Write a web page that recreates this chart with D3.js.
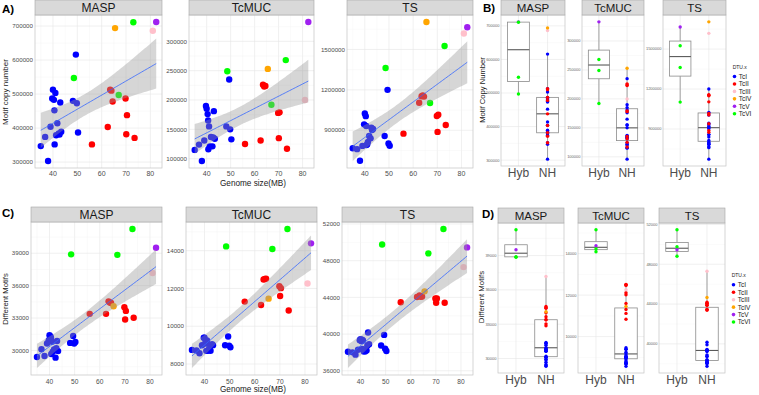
<!DOCTYPE html>
<html>
<head>
<meta charset="utf-8">
<script src="https://cdn.jsdelivr.net/npm/d3@7"></script>
<style>
  body { margin: 0; background: #fff; }
  svg text { font-family: "Liberation Sans", Arial, Helvetica, sans-serif; }
</style>
</head>
<body>
<div id="chart"></div>
<script>
// ---- data ----
const families = ['MASP', 'TcMUC', 'TS'];
const dtuLevels = ['TcI', 'TcII', 'TcIII', 'TcIV', 'TcV', 'TcVI'];
const groupLabels = ['Hyb', 'NH'];

// one entry per strain
const genomeSize = [35.0, 36.8, 38.0, 39.0, 39.7, 40.0, 40.4, 40.6, 40.7, 41.0, 41.3, 41.8, 42.4, 42.7, 43.0, 43.4, 48.2, 49.4, 49.8, 50.3,
  56.0, 62.5, 63.5, 64.0, 64.5, 69.8, 70.4, 70.1, 73.5,
  81.0, 65.5, 82.4, 48.6, 67.0, 73.0];
const strainDtu = ['TcI', 'TcI', 'TcI', 'TcI', 'TcI', 'TcI', 'TcI', 'TcI', 'TcI', 'TcI', 'TcI', 'TcI', 'TcI', 'TcI', 'TcI', 'TcI', 'TcI', 'TcI', 'TcI', 'TcI',
  'TcII', 'TcII', 'TcII', 'TcII', 'TcII', 'TcII', 'TcII', 'TcII', 'TcII',
  'TcIII', 'TcIV', 'TcV', 'TcVI', 'TcVI', 'TcVI'];

// motif copy number
const maspCopies = [347000, 374000, 303000, 404000, 487000, 513000, 483000, 452000, 352000, 503000, 379000, 414000, 384000, 381000, 475000, 389000, 480000, 616000, 473000, 387000,
  352000, 403000, 513000, 510000, 478000, 487000, 438000, 382000, 371000,
  686000, 694000, 712000, 547000, 497000, 711000];
const tcmucCopies = [115000, 124000, 96000, 131000, 190000, 185000, 176000, 165000, 116000, 155000, 121000, 137000, 121000, 136000, 181000, 134000, 155000, 235000, 150000, 133000,
  125000, 131000, 226000, 223000, 224000, 178000, 179000, 135000, 117000,
  200000, 253000, 333000, 249000, 192000, 268000];
const tsCopies = [767000, 760000, 674000, 784000, 944000, 1025000, 1005000, 932000, 790000, 797000, 814000, 858000, 840000, 920000, 902000, 910000, 858000, 1200000, 802000, 785000,
  875000, 1104000, 1153000, 1158000, 1150000, 1006000, 1016000, 888000, 939000,
  1618000, 1704000, 1665000, 1362000, 1102000, 1525000];

// different motifs
const maspMotifs = [29390, 30120, 29480, 30640, 30940, 31400, 31300, 31150, 29670, 30800, 29880, 30090, 29330, 30200, 30880, 29940, 30700, 31340, 30640, 30790,
  33390, 33390, 34545, 34450, 34390, 34000, 33660, 32870, 33030,
  37165, 34090, 39510, 38900, 38850, 41250];
const tcmucMotifs = [8748, 8713, 8574, 8991, 9391, 9391, 9165, 9078, 8696, 9250, 8696, 8800, 8700, 8991, 9043, 9000, 8991, 9460, 8974, 8887,
  11304, 11120, 12470, 12500, 12520, 12120, 12016, 11600, 10836,
  12260, 11460, 14386, 14226, 14090, 15149];
const tsMotifs = [38080, 38010, 37760, 38300, 39340, 39450, 39230, 39380, 38370, 39300, 38115, 38115, 38200, 38730, 40170, 38900, 38760, 39914, 38400, 38150,
  43475, 44050, 44200, 44060, 44100, 43880, 43880, 43410, 43410,
  47300, 44660, 49450, 49770, 48800, 51460];

// tick labels
const genomeTicks = [40, 50, 60, 70, 80];
const maspCopyTicks = [300000, 400000, 500000, 600000, 700000];
const tcmucCopyTicks = [100000, 150000, 200000, 250000, 300000];
const tsCopyTicks = [900000, 1200000, 1500000];
const maspMotifTicks = [30000, 33000, 36000, 39000];
const tcmucMotifTicks = [8000, 10000, 12000, 14000];
const tsMotifTicks = [36000, 40000, 44000, 48000, 52000];

// ---- styles ----
const dtuColor = d3.scaleOrdinal()
    .domain(dtuLevels)
    .range(['#0000ff', '#ff0000', '#ffc0cb', '#ffa500', '#a020f0', '#00ff00']);
const hybrids = ['TcV', 'TcVI'];
const T_975 = 2.0345; // qt(0.975, n - 2)

const svg = d3.select('#chart').append('svg')
    .attr('width', 759)
    .attr('height', 395);

// linear fit with 95% confidence band, like geom_smooth(method = "lm")
function lmBand(xs, ys) {
  const n = xs.length;
  const xbar = d3.mean(xs), ybar = d3.mean(ys);
  let sxx = 0, sxy = 0;
  xs.forEach((x, i) => { sxx += (x - xbar) ** 2; sxy += (x - xbar) * (ys[i] - ybar); });
  const b = sxy / sxx, a = ybar - b * xbar;
  const rss = d3.sum(xs, (x, i) => (ys[i] - a - b * x) ** 2);
  const s = Math.sqrt(rss / (n - 2));
  const [lo, hi] = d3.extent(xs);
  return d3.range(80).map(k => {
    const x = lo + (hi - lo) * k / 79;
    const fit = a + b * x;
    const se = s * Math.sqrt(1 / n + (x - xbar) ** 2 / sxx);
    return {x: x, fit: fit, lo: fit - T_975 * se, hi: fit + T_975 * se};
  });
}

function pad(ext, f) {
  const d = (ext[1] - ext[0]) * f;
  return [ext[0] - d, ext[1] + d];
}

function drawStrip(g, x0, x1, top, h, label, size) {
  g.append('rect')
      .attr('x', x0).attr('y', top)
      .attr('width', x1 - x0).attr('height', h)
      .attr('fill', '#d9d9d9')
      .attr('stroke', '#a6a6a6')
      .attr('stroke-width', 0.6);
  g.append('text')
      .attr('x', (x0 + x1) / 2)
      .attr('y', top + h / 2 + size * 0.36)
      .attr('text-anchor', 'middle')
      .attr('font-size', size)
      .attr('fill', '#1a1a1a')
      .text(label);
}

function yGrid(g, y, ticks, x0, x1) {
  const major = ticks.filter(t => t >= y.domain()[0] && t <= y.domain()[1]);
  const step = ticks[1] - ticks[0];
  const minor = d3.range(ticks[0] - step / 2, ticks[ticks.length - 1] + step, step)
      .filter(t => t >= y.domain()[0] && t <= y.domain()[1]);
  g.selectAll(null).data(minor).join('line')
      .attr('x1', x0).attr('x2', x1)
      .attr('y1', d => y(d)).attr('y2', d => y(d))
      .attr('stroke', '#f2f2f2').attr('stroke-width', 0.4);
  g.selectAll(null).data(major).join('line')
      .attr('x1', x0).attr('x2', x1)
      .attr('y1', d => y(d)).attr('y2', d => y(d))
      .attr('stroke', '#e6e6e6').attr('stroke-width', 0.6);
  return major;
}

// ---- scatter panels (A, C) ----
function scatterPanel(cfg) {
  const g = svg.append('g');
  const band = lmBand(genomeSize, cfg.values);
  const x = d3.scaleLinear()
      .domain(pad(d3.extent(genomeSize), 0.05))
      .range([cfg.x0, cfg.x1]);
  const yExt = d3.extent(cfg.values.concat(band.map(d => d.lo), band.map(d => d.hi)));
  const y = d3.scaleLinear()
      .domain(pad(yExt, 0.05))
      .range([cfg.bottom, cfg.top]);

  g.append('rect')
      .attr('x', cfg.x0).attr('y', cfg.top)
      .attr('width', cfg.x1 - cfg.x0).attr('height', cfg.bottom - cfg.top)
      .attr('fill', '#fff');

  const xMinor = d3.range(35, 90, 10).filter(t => t >= x.domain()[0] && t <= x.domain()[1]);
  g.selectAll(null).data(xMinor).join('line')
      .attr('x1', d => x(d)).attr('x2', d => x(d))
      .attr('y1', cfg.top).attr('y2', cfg.bottom)
      .attr('stroke', '#f2f2f2').attr('stroke-width', 0.4);
  g.selectAll(null).data(genomeTicks).join('line')
      .attr('x1', d => x(d)).attr('x2', d => x(d))
      .attr('y1', cfg.top).attr('y2', cfg.bottom)
      .attr('stroke', '#e6e6e6').attr('stroke-width', 0.6);
  const major = yGrid(g, y, cfg.ticks, cfg.x0, cfg.x1);

  const pts = genomeSize.map((gs, i) => ({x: gs, y: cfg.values[i], dtu: strainDtu[i]}));
  g.selectAll('.pt').data(pts).join('circle')
      .attr('class', 'pt')
      .attr('cx', d => x(d.x))
      .attr('cy', d => y(d.y))
      .attr('r', 3.2)
      .attr('fill', d => dtuColor(d.dtu));

  g.append('path')
      .datum(band)
      .attr('d', d3.area().x(d => x(d.x)).y0(d => y(d.lo)).y1(d => y(d.hi)))
      .attr('fill', '#999999')
      .attr('fill-opacity', 0.4);
  g.append('path')
      .datum(band)
      .attr('d', d3.line().x(d => x(d.x)).y(d => y(d.fit)))
      .attr('fill', 'none')
      .attr('stroke', '#3366ff')
      .attr('stroke-width', 0.8);

  g.append('rect')
      .attr('x', cfg.x0).attr('y', cfg.top)
      .attr('width', cfg.x1 - cfg.x0).attr('height', cfg.bottom - cfg.top)
      .attr('fill', 'none')
      .attr('stroke', '#c4c4c4')
      .attr('stroke-width', 0.7);

  drawStrip(g, cfg.x0, cfg.x1, cfg.top - 15, 15, cfg.title, 12);

  g.selectAll('.ytick').data(major).join('text')
      .attr('class', 'ytick')
      .attr('x', cfg.x0 - 2)
      .attr('y', d => y(d) + 2.2)
      .attr('text-anchor', 'end')
      .attr('font-size', 6.2)
      .attr('fill', '#4d4d4d')
      .text(d => d);
  g.selectAll('.xtick').data(genomeTicks).join('text')
      .attr('class', 'xtick')
      .attr('x', d => x(d))
      .attr('y', cfg.bottom + cfg.xOffset)
      .attr('text-anchor', 'middle')
      .attr('font-size', cfg.xFont)
      .attr('fill', '#4d4d4d')
      .text(d => d);
}

// ---- box panels (B, D) ----
function boxPanel(cfg) {
  const g = svg.append('g');
  const x = d3.scaleLinear().domain([0.4, 2.6]).range([cfg.x0, cfg.x1]);
  const y = d3.scaleLinear()
      .domain(pad(d3.extent(cfg.values), 0.05))
      .range([cfg.bottom, cfg.top]);
  const pts = cfg.values.map((v, i) => ({
    grp: hybrids.includes(strainDtu[i]) ? 1 : 2,
    y: v,
    dtu: strainDtu[i]
  }));

  g.append('rect')
      .attr('x', cfg.x0).attr('y', cfg.top)
      .attr('width', cfg.x1 - cfg.x0).attr('height', cfg.bottom - cfg.top)
      .attr('fill', '#fff');
  const major = yGrid(g, y, cfg.ticks, cfg.x0, cfg.x1);
  g.selectAll(null).data([1, 2]).join('line')
      .attr('x1', d => x(d)).attr('x2', d => x(d))
      .attr('y1', cfg.top).attr('y2', cfg.bottom)
      .attr('stroke', '#e6e6e6').attr('stroke-width', 0.6);

  [1, 2].forEach(grp => {
    const vals = pts.filter(d => d.grp === grp).map(d => d.y).sort(d3.ascending);
    const q1 = d3.quantile(vals, 0.25), med = d3.quantile(vals, 0.5), q3 = d3.quantile(vals, 0.75);
    const iqr = q3 - q1;
    const lowW = d3.min(vals.filter(v => v >= q1 - 1.5 * iqr));
    const highW = d3.max(vals.filter(v => v <= q3 + 1.5 * iqr));
    const cx = x(grp), half = (x(1.375) - x(1));
    g.append('line')
        .attr('x1', cx).attr('x2', cx).attr('y1', y(q3)).attr('y2', y(highW))
        .attr('stroke', '#8c8c8c').attr('stroke-width', 0.8);
    g.append('line')
        .attr('x1', cx).attr('x2', cx).attr('y1', y(q1)).attr('y2', y(lowW))
        .attr('stroke', '#8c8c8c').attr('stroke-width', 0.8);
    g.append('rect')
        .attr('x', cx - half).attr('y', y(q3))
        .attr('width', half * 2).attr('height', y(q1) - y(q3))
        .attr('fill', '#fff')
        .attr('stroke', '#8c8c8c').attr('stroke-width', 0.8);
    g.append('line')
        .attr('x1', cx - half).attr('x2', cx + half)
        .attr('y1', y(med)).attr('y2', y(med))
        .attr('stroke', '#595959').attr('stroke-width', 1.1);
  });

  g.selectAll('.pt').data(pts).join('circle')
      .attr('class', 'pt')
      .attr('cx', d => x(d.grp))
      .attr('cy', d => y(d.y))
      .attr('r', 1.7)
      .attr('fill', d => dtuColor(d.dtu));

  g.append('rect')
      .attr('x', cfg.x0).attr('y', cfg.top)
      .attr('width', cfg.x1 - cfg.x0).attr('height', cfg.bottom - cfg.top)
      .attr('fill', 'none')
      .attr('stroke', '#c4c4c4')
      .attr('stroke-width', 0.7);

  drawStrip(g, cfg.x0, cfg.x1, cfg.top - 15, 15, cfg.title, 11.5);

  g.selectAll('.ytick').data(major).join('text')
      .attr('class', 'ytick')
      .attr('x', cfg.x0 - 1.5)
      .attr('y', d => y(d) + 1.4)
      .attr('text-anchor', 'end')
      .attr('font-size', 4)
      .attr('fill', '#666')
      .text(d => d);
  g.selectAll('.xcat').data(groupLabels).join('text')
      .attr('class', 'xcat')
      .attr('x', (d, i) => x(i + 1))
      .attr('y', cfg.bottom + 10.5)
      .attr('text-anchor', 'middle')
      .attr('font-size', 12)
      .attr('fill', '#4d4d4d')
      .text(d => d);
}

function legend(x, top) {
  const g = svg.append('g').attr('transform', `translate(${x},${top})`);
  g.append('text')
      .attr('x', 0).attr('y', 0)
      .attr('font-size', 5)
      .attr('fill', '#1a1a1a')
      .text('DTU.x');
  const item = g.selectAll('.item').data(dtuLevels).join('g')
      .attr('class', 'item')
      .attr('transform', (d, i) => `translate(0,${8 + i * 7.45})`);
  item.append('circle')
      .attr('cx', 1.8).attr('cy', 0).attr('r', 1.8)
      .attr('fill', d => dtuColor(d));
  item.append('text')
      .attr('x', 6).attr('y', 2.4)
      .attr('font-size', 6.5)
      .attr('fill', '#1a1a1a')
      .text(d => d);
}

function panelLabel(text, x, y) {
  svg.append('text')
      .attr('x', x).attr('y', y)
      .attr('font-size', 11.5)
      .attr('font-weight', 'bold')
      .text(text);
}

function yTitle(text, x, y, size) {
  svg.append('text')
      .attr('transform', `translate(${x},${y}) rotate(-90)`)
      .attr('text-anchor', 'middle')
      .attr('font-size', size)
      .attr('fill', '#1a1a1a')
      .text(text);
}

// ---- layout ----
const copies = [maspCopies, tcmucCopies, tsCopies];
const motifs = [maspMotifs, tcmucMotifs, tsMotifs];
const copyTicks = [maspCopyTicks, tcmucCopyTicks, tsCopyTicks];
const motifTicks = [maspMotifTicks, tcmucMotifTicks, tsMotifTicks];

const rowA = [[35, 162], [189, 314], [347, 473]];
const rowC = [[31, 162], [186, 317], [342, 473]];
const rowB = [[501, 565], [582, 644], [663, 726]];
const rowD = [[498, 564], [578, 644], [659, 725]];

families.forEach((f, i) => {
  scatterPanel({title: f, values: copies[i], ticks: copyTicks[i],
    x0: rowA[i][0], x1: rowA[i][1], top: 15, bottom: 168, xFont: 7, xOffset: 7.8});
  scatterPanel({title: f, values: motifs[i], ticks: motifTicks[i],
    x0: rowC[i][0], x1: rowC[i][1], top: 222, bottom: 375, xFont: 6.6, xOffset: 9});
  boxPanel({title: f, values: copies[i], ticks: copyTicks[i],
    x0: rowB[i][0], x1: rowB[i][1], top: 15, bottom: 166});
  boxPanel({title: f, values: motifs[i], ticks: motifTicks[i],
    x0: rowD[i][0], x1: rowD[i][1], top: 223, bottom: 373});
});

svg.append('text')
    .attr('x', 253).attr('y', 185.5)
    .attr('text-anchor', 'middle')
    .attr('font-size', 8.2)
    .attr('fill', '#1a1a1a')
    .text('Genome size(MB)');
svg.append('text')
    .attr('x', 253).attr('y', 392.3)
    .attr('text-anchor', 'middle')
    .attr('font-size', 8.2)
    .attr('fill', '#1a1a1a')
    .text('Genome size(MB)');

yTitle('Motif copy number', 7.5, 92, 8);
yTitle('Different Motifs', 7.5, 299, 7.7);
yTitle('Motif Copy Number', 485, 90, 7.6);
yTitle('Different Motifs', 484, 297, 7.8);

panelLabel('A)', 2, 13);
panelLabel('B)', 483, 12);
panelLabel('C)', 2, 217);
panelLabel('D)', 482, 218);

legend(732.7, 68.5);
legend(731.7, 276.8);
</script>
</body>
</html>
